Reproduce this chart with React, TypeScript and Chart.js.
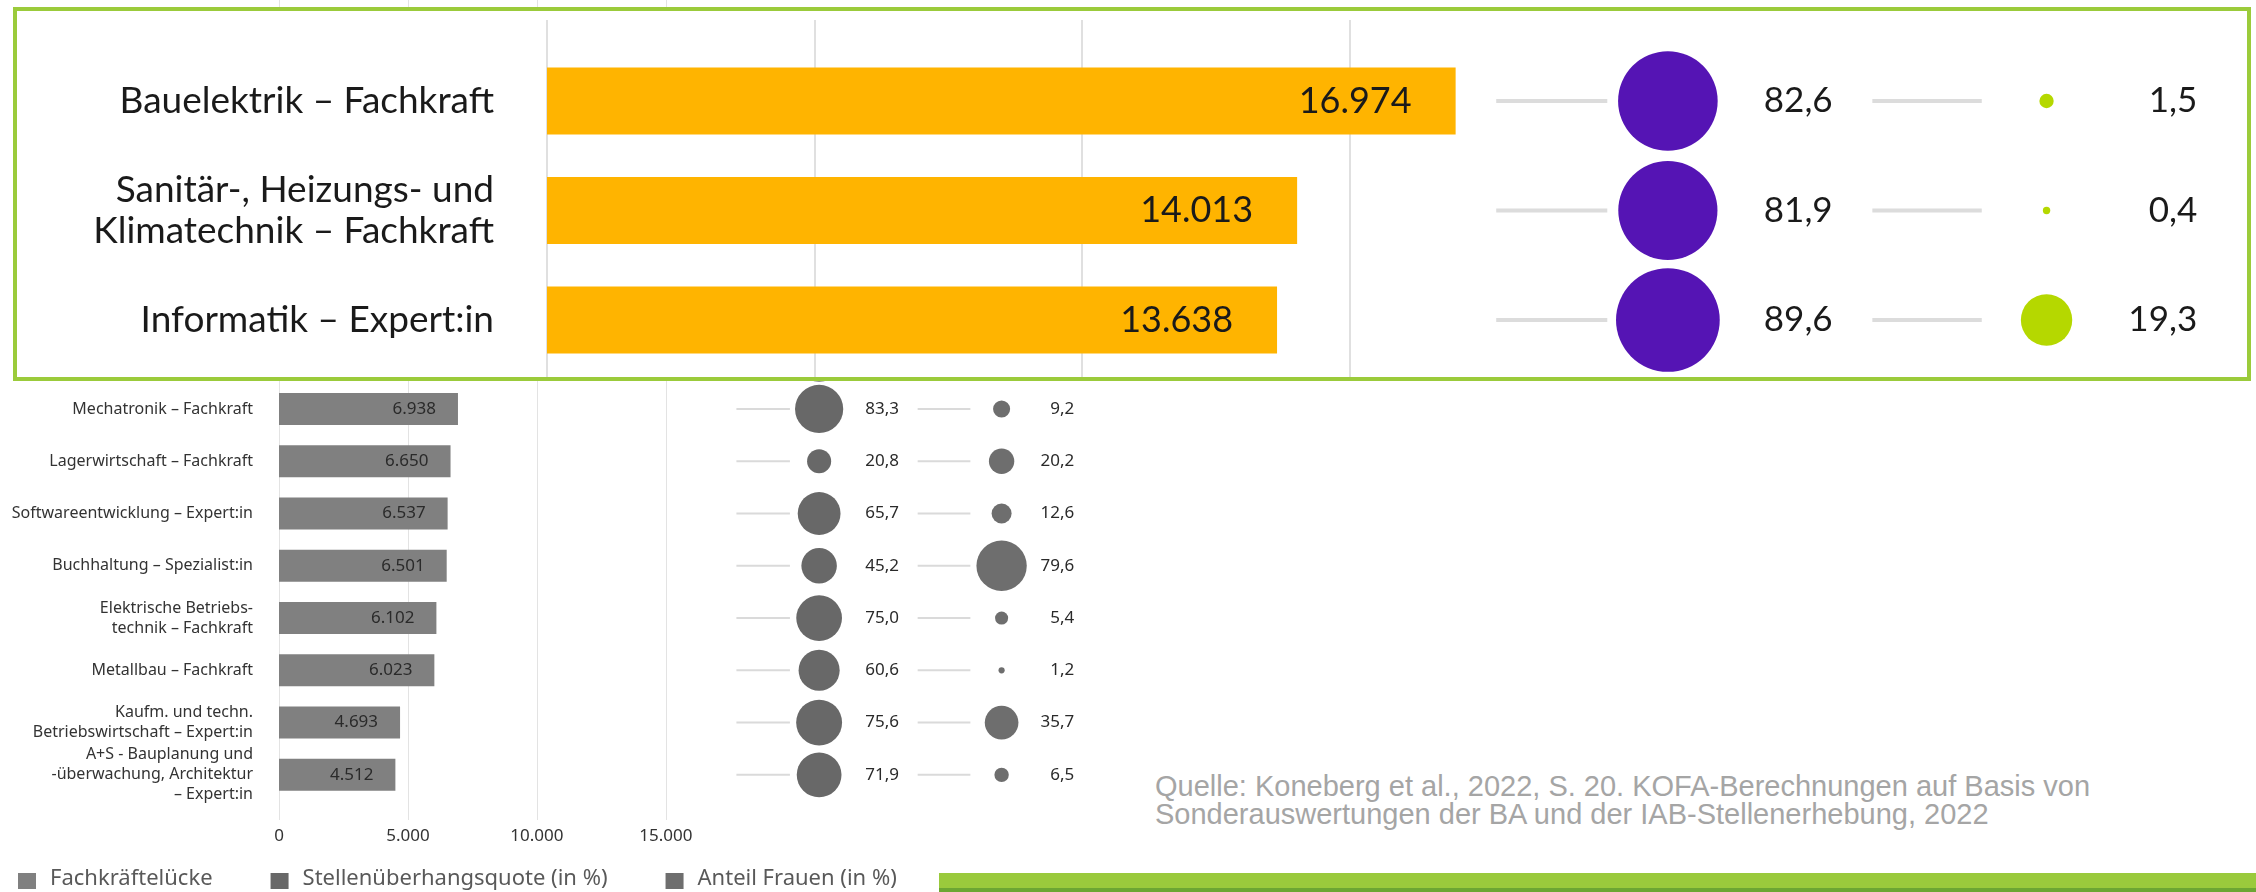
import React, { useEffect, useRef } from 'react';
import { Chart, registerables } from 'chart.js';

Chart.register(...registerables);

// ---------------- data ----------------
const CATEGORIES: (string | string[])[] = [
  'Bauelektrik – Fachkraft',
  ['Sanitär-, Heizungs- und', 'Klimatechnik – Fachkraft'],
  'Informatik – Expert:in',
  'Mechatronik – Fachkraft',
  'Lagerwirtschaft – Fachkraft',
  'Softwareentwicklung – Expert:in',
  'Buchhaltung – Spezialist:in',
  ['Elektrische Betriebs-', 'technik – Fachkraft'],
  'Metallbau – Fachkraft',
  ['Kaufm. und techn.', 'Betriebswirtschaft – Expert:in'],
  ['A+S - Bauplanung und', '-überwachung, Architektur', '– Expert:in'],
];
const FACHKRAEFTELUECKE = [16974, 14013, 13638, 6938, 6650, 6537, 6501, 6102, 6023, 4693, 4512];
const STELLENUEBERHANG = [82.6, 81.9, 89.6, 83.3, 20.8, 65.7, 45.2, 75.0, 60.6, 75.6, 71.9];
const ANTEIL_FRAUEN = [1.5, 0.4, 19.3, 9.2, 20.2, 12.6, 79.6, 5.4, 1.2, 35.7, 6.5];
const SERIES_NAMES = ['Fachkräftelücke', 'Stellenüberhangsquote (in %)', 'Anteil Frauen (in %)'];
const X_TICKS = [0, 5000, 10000, 15000];
const HIGHLIGHT_COUNT = 3;
const SOURCE_LINES = [
  'Quelle: Koneberg et al., 2022, S. 20. KOFA-Berechnungen auf Basis von',
  'Sonderauswertungen der BA und der IAB-Stellenerhebung, 2022',
];

// ---------------- layout ----------------
const X_MAX = 31440;
// column positions in percent of the plot width (hidden helper axis "xb")
const COLS = {
  line1: [56.4, 63.0],
  bubble1: 66.6,
  label1: 72.3,
  line2: [78.75, 85.25],
  bubble2: 89.1,
  label2: 98.05,
};

type PanelStyle = {
  left: number; top: number; width: number; height: number;
  padLeft: number; padRight: number; padTop: number; padBottom: number;
  axisWidth: number; showXAxis: boolean; xAxisHeight: number; tickPad: number;
  tickFamily: string; tickSize: number; tickColor: string;
  gridTop: number; gridBottom: number; gridColor: string; gridWidth: number;
  labelFamily: string; labelSize: number; labelLineHeight: number; labelColor: string; labelPad: number;
  valueFamily: string; valueSize: number; valueColor: string; valuePad: number;
  bubbleFamily: string; bubbleSize: number; bubbleColor: string;
  barColor: string; bubble1Color: string; bubble2Color: string;
  k1: number; k2: number;
  lineColor: string; lineWidth: number;
  barPct: number;
  legend: null | { x0: number; y: number; boxW: number; boxH: number; textGap: number; itemGap: number; family: string; size: number; color: string };
};

const BG_STYLE: PanelStyle = {
  left: 0, top: 0, width: 1110, height: 892,
  padLeft: 0, padRight: 20, padTop: 226, padBottom: 0,
  axisWidth: 279, showXAxis: true, xAxisHeight: 91, tickPad: 25,
  tickFamily: 'Noto Sans', tickSize: 17, tickColor: '#333333',
  gridTop: 0, gridBottom: 820, gridColor: '#e3e3e3', gridWidth: 1,
  labelFamily: 'Noto Sans', labelSize: 16, labelLineHeight: 1.25, labelColor: '#333333', labelPad: 26,
  valueFamily: 'Noto Sans', valueSize: 17, valueColor: '#2a2a2a', valuePad: 22,
  bubbleFamily: 'Noto Sans', bubbleSize: 17, bubbleColor: '#2a2a2a',
  barColor: '#808080', bubble1Color: '#686868', bubble2Color: '#6e6e6e',
  k1: 2.64, k2: 2.82,
  lineColor: '#dadada', lineWidth: 2,
  barPct: 0.612,
  legend: { x0: 18, y: 881, boxW: 18, boxH: 16, textGap: 14, itemGap: 58, family: 'Noto Sans', size: 22, color: '#595959' },
};

const ZOOM_STYLE: PanelStyle = {
  left: 0, top: 0, width: 2230, height: 366,
  padLeft: 0, padRight: 17, padTop: 35.25, padBottom: 2.25,
  axisWidth: 530, showXAxis: false, xAxisHeight: 0, tickPad: 0,
  tickFamily: 'Lato', tickSize: 30, tickColor: '#1a1a1a',
  gridTop: 9, gridBottom: 366, gridColor: '#e0e0e0', gridWidth: 2,
  labelFamily: 'Lato', labelSize: 37, labelLineHeight: 1.1, labelColor: '#1a1a1a', labelPad: 53,
  valueFamily: 'Lato', valueSize: 36, valueColor: '#1a1a1a', valuePad: 44,
  bubbleFamily: 'Lato', bubbleSize: 35, bubbleColor: '#1a1a1a',
  barColor: '#FFB400', bubble1Color: '#5514B4', bubble2Color: '#B5D800',
  k1: 5.48, k2: 5.85,
  lineColor: '#dcdcdc', lineWidth: 4,
  barPct: 0.612,
  legend: null,
};

const fmtInt = (v: number) => String(Math.round(v)).replace(/\B(?=(\d{3})+(?!\d))/g, '.');
const fmtPct = (v: number) => v.toFixed(1).replace('.', ',');

function makeConfig(labels: (string | string[])[], gap: number[], quote: number[], women: number[], st: PanelStyle): any {
  const decor = {
    id: 'decor',
    beforeDatasetsDraw(chart: any) {
      const ctx = chart.ctx;
      const x = chart.scales.x;
      const xb = chart.scales.xb;
      const y = chart.scales.y;
      ctx.save();
      ctx.strokeStyle = st.gridColor;
      ctx.lineWidth = st.gridWidth;
      X_TICKS.forEach((v) => {
        const px = Math.round(x.getPixelForValue(v)) + (st.gridWidth % 2 ? 0.5 : 0);
        ctx.beginPath();
        ctx.moveTo(px, st.gridTop);
        ctx.lineTo(px, st.gridBottom);
        ctx.stroke();
      });
      ctx.strokeStyle = st.lineColor;
      ctx.lineWidth = st.lineWidth;
      labels.forEach((_, i) => {
        const py = y.getPixelForValue(i);
        [COLS.line1, COLS.line2].forEach(([a, b]) => {
          ctx.beginPath();
          ctx.moveTo(xb.getPixelForValue(a), py);
          ctx.lineTo(xb.getPixelForValue(b), py);
          ctx.stroke();
        });
      });
      ctx.restore();
    },
    afterDatasetsDraw(chart: any) {
      const ctx = chart.ctx;
      const xb = chart.scales.xb;
      ctx.save();
      ctx.textBaseline = 'middle';
      // bar values
      ctx.fillStyle = st.valueColor;
      ctx.font = `${st.valueSize}px "${st.valueFamily}"`;
      ctx.textAlign = 'right';
      chart.getDatasetMeta(0).data.forEach((bar: any, i: number) => {
        ctx.fillText(fmtInt(gap[i]), bar.x - st.valuePad, bar.y);
      });
      // bubble values
      ctx.fillStyle = st.bubbleColor;
      ctx.font = `${st.bubbleSize}px "${st.bubbleFamily}"`;
      ctx.textAlign = 'left';
      chart.getDatasetMeta(1).data.forEach((pt: any, i: number) => {
        ctx.fillText(fmtPct(quote[i]), xb.getPixelForValue(COLS.label1), pt.y);
      });
      ctx.textAlign = 'right';
      chart.getDatasetMeta(2).data.forEach((pt: any, i: number) => {
        ctx.fillText(fmtPct(women[i]), xb.getPixelForValue(COLS.label2), pt.y);
      });
      // legend
      const lg = st.legend;
      if (lg) {
        ctx.font = `${lg.size}px "${lg.family}"`;
        ctx.textAlign = 'left';
        ctx.textBaseline = 'middle';
        let cx = lg.x0;
        chart.data.datasets.forEach((ds: any) => {
          ctx.fillStyle = ds.backgroundColor;
          ctx.fillRect(cx, lg.y - lg.boxH / 2, lg.boxW, lg.boxH);
          ctx.fillStyle = lg.color;
          const tx = cx + lg.boxW + lg.textGap;
          ctx.fillText(ds.label, tx, lg.y - 2);
          cx = tx + ctx.measureText(ds.label).width + lg.itemGap;
        });
      }
      ctx.restore();
    },
  };

  return {
    type: 'bar',
    data: {
      labels,
      datasets: [
        {
          type: 'bar',
          label: SERIES_NAMES[0],
          data: gap,
          xAxisID: 'x',
          yAxisID: 'y',
          backgroundColor: st.barColor,
          borderWidth: 0,
          barPercentage: st.barPct,
          categoryPercentage: 1,
        },
        {
          type: 'bubble',
          label: SERIES_NAMES[1],
          data: quote.map((_, i) => ({ x: COLS.bubble1, y: i })),
          radius: (c: any) => st.k1 * Math.sqrt(quote[c.dataIndex]),
          backgroundColor: st.bubble1Color,
          borderWidth: 0,
          xAxisID: 'xb',
          yAxisID: 'y',
          clip: false,
        },
        {
          type: 'bubble',
          label: SERIES_NAMES[2],
          data: women.map((_, i) => ({ x: COLS.bubble2, y: i })),
          radius: (c: any) => st.k2 * Math.sqrt(women[c.dataIndex]),
          backgroundColor: st.bubble2Color,
          borderWidth: 0,
          xAxisID: 'xb',
          yAxisID: 'y',
          clip: false,
        },
      ],
    },
    options: {
      responsive: false,
      animation: false,
      events: [],
      indexAxis: 'y',
      layout: { autoPadding: false, padding: { left: st.padLeft, right: st.padRight, top: st.padTop, bottom: st.padBottom } },
      plugins: { legend: { display: false }, tooltip: { enabled: false } },
      scales: {
        y: {
          type: 'category',
          offset: true,
          grid: { display: false, drawTicks: false },
          border: { display: false },
          ticks: {
            autoSkip: false,
            color: st.labelColor,
            font: { family: st.labelFamily, size: st.labelSize, lineHeight: st.labelLineHeight },
            padding: st.labelPad,
          },
          afterFit: (s: any) => {
            s.width = st.axisWidth;
            s.paddingTop = 0;
            s.paddingBottom = 0;
          },
        },
        x: {
          type: 'linear',
          position: 'bottom',
          min: 0,
          max: X_MAX,
          display: st.showXAxis,
          grid: { display: false, drawTicks: false },
          border: { display: false },
          afterBuildTicks: (s: any) => { s.ticks = X_TICKS.map((v) => ({ value: v })); },
          ticks: {
            autoSkip: false,
            maxRotation: 0,
            minRotation: 0,
            padding: st.tickPad,
            color: st.tickColor,
            font: { family: st.tickFamily, size: st.tickSize, lineHeight: 1.2 },
            callback: (v: any) => fmtInt(Number(v)),
          },
          afterFit: (s: any) => { s.height = st.xAxisHeight; },
        },
        xb: { type: 'linear', axis: 'x', position: 'bottom', min: 0, max: 100, display: false },
      },
    },
    plugins: [decor],
  };
}

function Panel(props: { labels: (string | string[])[]; gap: number[]; quote: number[]; women: number[]; st: PanelStyle }) {
  const ref = useRef<HTMLCanvasElement>(null);
  useEffect(() => {
    const chart = new Chart(ref.current as HTMLCanvasElement, makeConfig(props.labels, props.gap, props.quote, props.women, props.st));
    return () => chart.destroy();
  }, []);
  const st = props.st;
  return (
    <canvas
      ref={ref}
      width={st.width}
      height={st.height}
      style={{ position: 'absolute', left: st.left, top: st.top, width: st.width, height: st.height, display: 'block' }}
    />
  );
}

export default function App() {
  return (
    <div style={{ position: 'absolute', left: 0, top: 0, width: 2256, height: 892, background: '#ffffff', overflow: 'hidden' }}>
      <Panel labels={CATEGORIES} gap={FACHKRAEFTELUECKE} quote={STELLENUEBERHANG} women={ANTEIL_FRAUEN} st={BG_STYLE} />
      <div
        style={{
          position: 'absolute', left: 13, top: 7, width: 2238, height: 374,
          border: '4px solid #9bcb3b', boxSizing: 'border-box', background: '#ffffff',
        }}
      >
        <div style={{ position: 'relative', width: 2230, height: 366 }}>
          <Panel
            labels={CATEGORIES.slice(0, HIGHLIGHT_COUNT)}
            gap={FACHKRAEFTELUECKE.slice(0, HIGHLIGHT_COUNT)}
            quote={STELLENUEBERHANG.slice(0, HIGHLIGHT_COUNT)}
            women={ANTEIL_FRAUEN.slice(0, HIGHLIGHT_COUNT)}
            st={ZOOM_STYLE}
          />
        </div>
      </div>
      <div
        style={{
          position: 'absolute', left: 1155, top: 772, fontFamily: '"Liberation Sans", Arial, sans-serif',
          fontSize: 29, lineHeight: '28px', color: '#a5a5a5', whiteSpace: 'nowrap',
        }}
      >
        {SOURCE_LINES.map((l, i) => (
          <div key={i}>{l}</div>
        ))}
      </div>
      <div style={{ position: 'absolute', left: 939, top: 873, width: 1317, height: 15, background: '#9aca3c' }} />
      <div style={{ position: 'absolute', left: 939, top: 888, width: 1317, height: 4, background: '#6ca633' }} />
    </div>
  );
}
